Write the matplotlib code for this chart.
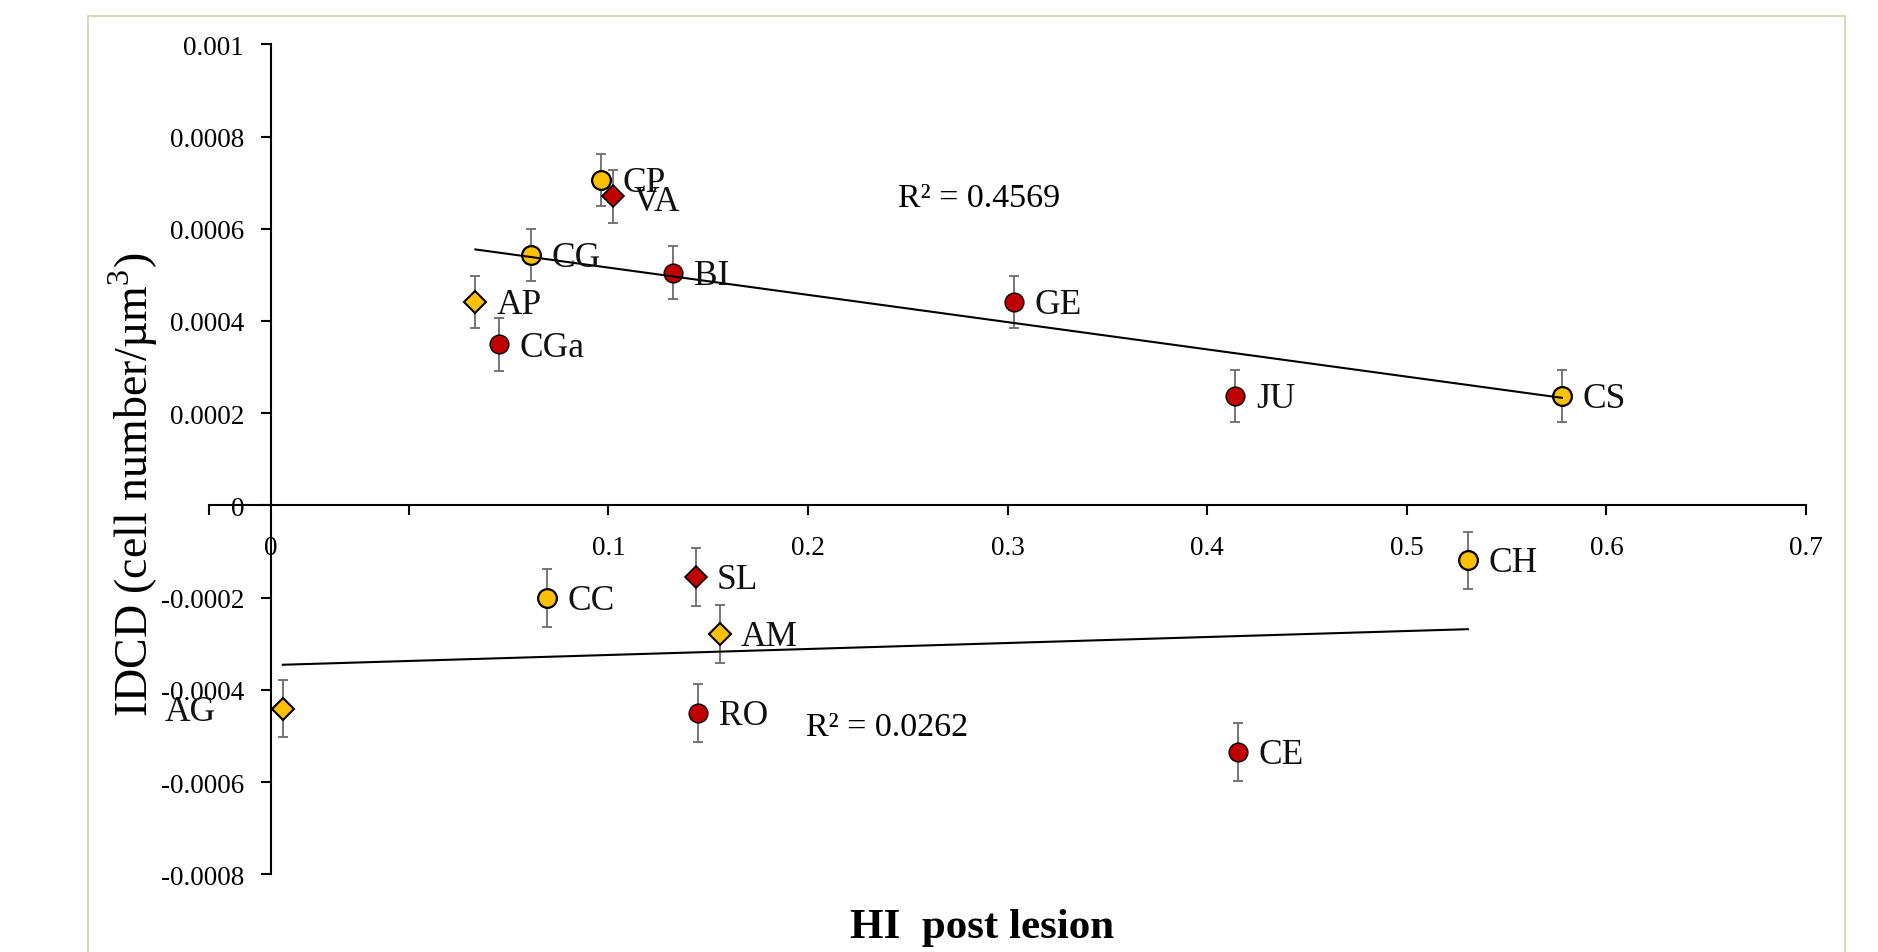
import numpy as np
import matplotlib
matplotlib.use('Agg')
import matplotlib.pyplot as plt
from matplotlib.patches import Rectangle

plt.rcParams['font.family'] = ['Liberation Serif', 'DejaVu Serif']
plt.rcParams['mathtext.fontset'] = 'custom'
plt.rcParams['mathtext.rm'] = 'Liberation Serif'

# upper group (IDCD > 0)
up_names = ['CP', 'VA', 'CG', 'BI', 'AP', 'CGa', 'GE', 'JU', 'CS']
up_x = [0.0964, 0.1021, 0.0610, 0.1325, 0.0333, 0.0450, 0.3030, 0.4140, 0.5777]
up_y = [0.000706, 0.000670, 0.000543, 0.000505, 0.000442, 0.000349, 0.000441, 0.000237, 0.000237]
up_err = 0.0000565

# lower group (IDCD < 0)
lo_names = ['CC', 'SL', 'AM', 'AG', 'RO', 'CH', 'CE']
lo_x = [0.0692, 0.1437, 0.1559, -0.0632, 0.1450, 0.5306, 0.4154]
lo_y = [-0.000201, -0.000155, -0.000279, -0.000441, -0.000450, -0.000119, -0.000535]
lo_err = 0.0000622

yellow_circles = ['CP', 'CG', 'CS', 'CC', 'CH']
red_circles = ['BI', 'CGa', 'GE', 'JU', 'RO', 'CE']
yellow_diamonds = ['AP', 'AM', 'AG']
red_diamonds = ['VA', 'SL']

yticks = [-0.0008, -0.0006, -0.0004, -0.0002, 0, 0.0002, 0.0004, 0.0006, 0.0008, 0.001]
ytick_labels = ['-0.0008', '-0.0006', '-0.0004', '-0.0002', '0', '0.0002', '0.0004', '0.0006', '0.0008', '0.001']
xticks = [-0.1, 0.0, 0.1, 0.2, 0.3, 0.4, 0.5, 0.6, 0.7]
xtick_labels = ['', '', '0.1', '0.2', '0.3', '0.4', '0.5', '0.6', '0.7']
yaxis_x = -0.0692

YELLOW = '#FFC000'
RED = '#C00000'

fig = plt.figure(figsize=(18.78, 9.53), dpi=100)
ax = fig.add_axes([209.3 / 1878, 77.7 / 953, (1806 - 209.3) / 1878, (875.3 - 45.3) / 953])
ax.set_xlim(-0.1, 0.7)
ax.set_ylim(-0.0008, 0.001)

names = up_names + lo_names
xs = dict(zip(names, up_x + lo_x))
ys = dict(zip(names, up_y + lo_y))

# error bars
ax.errorbar(up_x, up_y, yerr=up_err, fmt='none', ecolor='#6b6b6b', elinewidth=1.3,
            capsize=3.4, capthick=1.3, zorder=2)
ax.errorbar(lo_x, lo_y, yerr=lo_err, fmt='none', ecolor='#6b6b6b', elinewidth=1.3,
            capsize=3.4, capthick=1.3, zorder=2)

def draw(group, marker, color, ms, mew):
    ax.plot([xs[n] for n in group], [ys[n] for n in group], linestyle='none', marker=marker,
            markerfacecolor=color, markeredgecolor='black', markersize=ms, markeredgewidth=mew, zorder=3)

draw(yellow_circles, 'o', YELLOW, 13.5, 1.6)
draw(red_circles, 'o', RED, 13.5, 1.0)
draw(yellow_diamonds, 'D', YELLOW, 11.5, 1.5)
draw(red_diamonds, 'D', RED, 11.5, 1.2)

# linear trendlines
for gx, gy in [(up_x, up_y), (lo_x, lo_y)]:
    gx = np.array(gx)
    gy = np.array(gy)
    k, b = np.polyfit(gx, gy, 1)
    xl = np.array([gx.min(), gx.max()])
    ax.plot(xl, k * xl + b, color='black', linewidth=1.5, zorder=4)

# point labels
for n in names:
    if n == 'AG':
        off, ha = (-48, -8), 'right'
    elif n == 'VA':
        off, ha = (15, -10), 'left'
    else:
        off, ha = (15, -8), 'left'
    ax.annotate(n, (xs[n], ys[n]), xytext=off, textcoords='offset points', ha=ha,
                va='baseline', fontsize=25.5, color='#111111', zorder=5)

ax.text(0.245, 0.000649, 'R² = 0.4569', fontsize=24.5, va='baseline', ha='left')
ax.text(0.1992, -0.000497, 'R² = 0.0262', fontsize=24.5, va='baseline', ha='left')

# axes styling
for s in ['top', 'right']:
    ax.spines[s].set_visible(False)
ax.spines['left'].set_position(('data', yaxis_x))
ax.spines['bottom'].set_position(('data', 0))
for s in ['left', 'bottom']:
    ax.spines[s].set_linewidth(1.5)
    ax.spines[s].set_color('black')

ax.set_yticks(yticks, labels=ytick_labels)
ax.set_xticks(xticks, labels=xtick_labels)
ax.set_xticks([yaxis_x], labels=['0'], minor=True)
ax.tick_params(axis='both', which='major', direction='out', length=7.2, width=1.5, labelsize=19.5)
ax.tick_params(axis='y', which='major', pad=12)
ax.tick_params(axis='x', which='major', pad=14)
ax.tick_params(axis='x', which='minor', length=0, pad=21.2, labelsize=19.5)
ax.patch.set_visible(False)

fig.text(133 / 1878, 1 - 485 / 953, r'IDCD (cell number/µm$^{\mathrm{3}}$)', rotation=90,
         ha='center', va='center', fontsize=33)
fig.text(982 / 1878, 1 - 928 / 953, 'HI  post lesion', ha='center', va='center',
         fontsize=31, fontweight='bold')

fig.add_artist(Rectangle((88 / 1878, -0.05), (1845 - 88) / 1878, 0.05 + 936 / 953,
                         transform=fig.transFigure, fill=False, edgecolor='#d6d0b0', linewidth=1.2))

fig.savefig('out.png', dpi=100)
